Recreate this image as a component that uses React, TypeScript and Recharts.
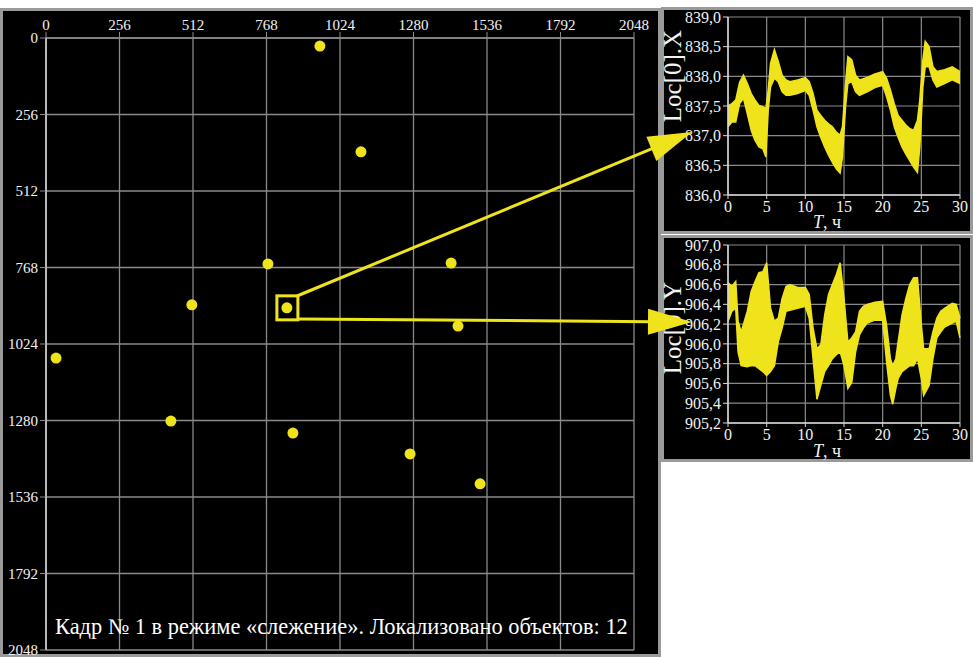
import {
  ScatterChart, Scatter, AreaChart, Area, XAxis, YAxis, CartesianGrid,
} from 'recharts';

const SERIF = "'Liberation Serif', 'DejaVu Serif', 'Times New Roman', Times, serif";
const YELLOW = '#efe31c';
const GRID = '#8a8a8a';
const AXIS = '#d8d8d8';
const BORDER = '#9a9a9a';

// frame ticks (pixels of the 2048x2048 frame)
const FRAME_TICKS = [0, 256, 512, 768, 1024, 1280, 1536, 1792, 2048];

// localized objects in frame #1
const OBJ_X = [954, 1097, 773, 1411, 508, 839, 1435, 35, 435, 860, 1268, 1512];
const OBJ_Y = [27, 381, 756, 753, 893, 903, 964, 1071, 1282, 1322, 1392, 1492];
const SELECTED = 5;

// Loc[0].X over time — lower / upper edge of the jitter band
const T_X = [0, 0.5, 1, 1.5, 2, 2.5, 3, 3.5, 4, 4.5, 4.9, 5.2, 5.5, 6, 6.5, 7, 7.5, 8, 9, 10, 10.5, 11, 11.5, 12, 12.5, 13, 13.5, 14, 14.5, 14.8, 15.2, 15.5, 16, 16.5, 17, 18, 19, 20, 20.5, 21, 21.5, 22, 22.5, 23, 23.5, 24, 24.5, 24.8, 25.2, 25.5, 26, 26.5, 27, 28, 29, 30];
const HI_X = [837.5, 837.54, 837.6, 837.9, 838.02, 837.88, 837.71, 837.6, 837.51, 837.49, 837.46, 837.77, 838.22, 838.45, 838.25, 838.02, 837.94, 837.91, 837.94, 837.98, 837.91, 837.71, 837.43, 837.34, 837.26, 837.2, 837.15, 837.06, 837.01, 837.15, 837.88, 838.33, 838.28, 838.02, 837.94, 837.98, 838.04, 838.08, 837.97, 837.77, 837.54, 837.34, 837.26, 837.18, 837.12, 837.09, 837.26, 837.6, 838.28, 838.59, 838.5, 838.16, 838.08, 838.11, 838.16, 838.08];
const LO_X = [837.15, 837.23, 837.23, 837.54, 837.63, 837.37, 837.09, 836.92, 836.81, 836.78, 836.64, 837.43, 837.82, 837.97, 837.91, 837.74, 837.68, 837.68, 837.71, 837.76, 837.68, 837.43, 837.15, 836.97, 836.81, 836.67, 836.55, 836.44, 836.37, 836.64, 837.49, 837.88, 837.91, 837.74, 837.68, 837.74, 837.81, 837.85, 837.66, 837.43, 837.15, 836.97, 836.81, 836.69, 836.58, 836.47, 836.38, 836.81, 837.82, 838.16, 838.16, 837.94, 837.82, 837.88, 837.94, 837.88];
const TICKS_LX = [836, 836.5, 837, 837.5, 838, 838.5, 839];

// Loc[0].Y over time
const T_Y = [0, 0.5, 1, 1.3, 1.7, 2.5, 3, 3.5, 4, 4.5, 5, 5.5, 6, 6.5, 7, 7.5, 8, 9, 10, 10.5, 11, 11.5, 12, 12.5, 13, 13.5, 14, 14.5, 15, 15.5, 16, 16.5, 17, 17.5, 18, 19, 20, 20.5, 21, 21.3, 21.7, 22, 22.5, 23, 23.5, 24, 24.5, 25, 25.3, 26, 26.5, 27, 27.5, 28, 29, 29.5, 30];
const HI_Y = [906.62, 906.58, 906.63, 906.23, 906.12, 906.33, 906.53, 906.63, 906.72, 906.73, 906.82, 906.36, 906.23, 906.26, 906.46, 906.58, 906.6, 906.57, 906.57, 906.5, 906.16, 905.95, 905.99, 906.29, 906.5, 906.6, 906.7, 906.82, 906.46, 906.02, 906.06, 906.12, 906.33, 906.38, 906.4, 906.42, 906.43, 906.19, 905.85, 905.78, 905.85, 906.02, 906.29, 906.46, 906.6, 906.67, 906.67, 906.19, 905.95, 905.95, 906.12, 906.26, 906.33, 906.36, 906.41, 906.4, 906.26];
const LO_Y = [906.23, 906.33, 906.36, 905.92, 905.78, 905.77, 905.78, 905.78, 905.75, 905.72, 905.68, 905.72, 905.78, 906.02, 906.16, 906.33, 906.34, 906.36, 906.38, 906.26, 905.85, 905.44, 905.58, 905.72, 905.78, 905.85, 905.89, 905.92, 905.78, 905.55, 905.61, 905.92, 906.09, 906.16, 906.21, 906.24, 906.24, 905.82, 905.48, 905.39, 905.55, 905.65, 905.72, 905.75, 905.78, 905.78, 905.85, 905.65, 905.48, 905.58, 905.85, 906.06, 906.12, 906.17, 906.21, 906.23, 906.06];
const TICKS_LY = [905.2, 905.4, 905.6, 905.8, 906.0, 906.2, 906.4, 906.6, 906.8, 907.0];

const TICKS_T = [0, 5, 10, 15, 20, 25, 30];

const objects = OBJ_X.map((x, i) => ({ x, y: OBJ_Y[i], sel: i === SELECTED }));
const bandX = T_X.map((t, i) => ({ t, v: [LO_X[i], HI_X[i]] }));
const bandY = T_Y.map((t, i) => ({ t, v: [LO_Y[i], HI_Y[i]] }));

const comma = (v: number) => v.toFixed(1).replace('.', ',');

function Dot(props: any) {
  const { cx, cy, payload } = props;
  return (
    <g>
      <circle cx={cx} cy={cy} r={5.5} fill={YELLOW} />
      {payload.sel && (
        <rect x={cx - 10} y={cy - 12} width={21} height={24} fill="none" stroke={YELLOW} strokeWidth={3} />
      )}
    </g>
  );
}

// arrows from the boxed object to the two time plots (page pixels)
const ARROWS = [
  { x1: 297, y1: 296, x2: 692, y2: 132 },
  { x1: 297, y1: 319, x2: 692, y2: 322 },
];

function Arrow({ x1, y1, x2, y2 }: { x1: number; y1: number; x2: number; y2: number }) {
  const dx = x2 - x1, dy = y2 - y1;
  const len = Math.hypot(dx, dy);
  const ux = dx / len, uy = dy / len;
  const head = 44, half = 13;
  const bx = x2 - ux * head, by = y2 - uy * head;
  const pts = `${x2},${y2} ${bx - uy * half},${by + ux * half} ${bx + uy * half},${by - ux * half}`;
  return (
    <g>
      <line x1={x1} y1={y1} x2={bx + ux * 4} y2={by + uy * 4} stroke={YELLOW} strokeWidth={3} />
      <polygon points={pts} fill={YELLOW} />
    </g>
  );
}

const panel = (left: number, top: number, width: number, height: number): React.CSSProperties => ({
  position: 'absolute', left, top, width, height, background: '#000',
  border: `3px solid ${BORDER}`, boxSizing: 'border-box',
});

const tickFont = { fill: '#f2f2f2', fontSize: 15, fontFamily: SERIF };
const smallTick = { fill: '#f2f2f2', fontSize: 16, fontFamily: SERIF };

function TimePlot({ data, ticks, domain, label }: { data: any[]; ticks: number[]; domain: [number, number]; label: string }) {
  return (
    <AreaChart width={312} height={227} data={data} margin={{ top: 10, right: 13, bottom: 19, left: 17 }}>
      <CartesianGrid stroke={GRID} strokeWidth={1.2} />
      <XAxis dataKey="t" type="number" domain={[0, 30]} ticks={TICKS_T} height={20}
        tick={smallTick} tickSize={4} tickLine={{ stroke: AXIS }} axisLine={{ stroke: AXIS, strokeWidth: 1.5 }} />
      <YAxis type="number" domain={domain} ticks={ticks} width={50} tickFormatter={comma}
        allowDataOverflow interval={0}
        tick={smallTick} tickSize={5} tickLine={{ stroke: AXIS }} axisLine={{ stroke: AXIS, strokeWidth: 1.5 }} />
      <Area dataKey="v" type="linear" stroke={YELLOW} strokeWidth={1.5} fill={YELLOW} fillOpacity={1}
        isAnimationActive={false} dot={false} activeDot={false} name={label} />
    </AreaChart>
  );
}

function AxisTitleT({ left, top }: { left: number; top: number }) {
  return (
    <div style={{ position: 'absolute', left, top, width: 60, textAlign: 'center', color: '#f2f2f2', fontFamily: SERIF, fontSize: 18, lineHeight: '18px' }}>
      <i>T</i>, ч
    </div>
  );
}

function YTitle({ cx, cy, text }: { cx: number; cy: number; text: string }) {
  return (
    <div style={{
      position: 'absolute', left: cx - 60, top: cy - 12, width: 120, height: 24, textAlign: 'center',
      transform: 'rotate(-90deg)', color: '#f2f2f2', fontFamily: SERIF, fontSize: 25, lineHeight: '24px',
    }}>{text}</div>
  );
}

export default function App() {
  return (
    <div style={{ position: 'absolute', left: 0, top: 0, width: 973, height: 657, background: '#fff', overflow: 'hidden', fontFamily: SERIF }}>
      {/* frame with localized objects */}
      <div style={panel(0, 8, 661, 649)} />
      <div style={{ position: 'absolute', left: 0, top: 0 }}>
        <ScatterChart width={660} height={657} margin={{ top: 8, right: 26, bottom: 7, left: 6 }}>
          <CartesianGrid stroke={GRID} strokeWidth={1.3} />
          <XAxis dataKey="x" type="number" orientation="top" domain={[0, 2048]} ticks={FRAME_TICKS} height={30}
            interval={0} tick={tickFont} tickSize={6} tickLine={{ stroke: GRID }} axisLine={{ stroke: GRID, strokeWidth: 1.5 }} />
          <YAxis dataKey="y" type="number" reversed domain={[0, 2048]} ticks={FRAME_TICKS} width={40}
            interval={0} tick={tickFont} tickSize={6} tickLine={{ stroke: GRID }} axisLine={{ stroke: AXIS, strokeWidth: 1.5 }} />
          <Scatter data={objects} shape={Dot} isAnimationActive={false} />
        </ScatterChart>
      </div>
      <div style={{ position: 'absolute', left: 55, top: 615, color: '#fff', fontFamily: SERIF, fontSize: 22.4, lineHeight: '24px', whiteSpace: 'nowrap' }}>
        Кадр № 1 в режиме «слежение». Локализовано объектов: 12
      </div>

      {/* Loc[0].X */}
      <div style={panel(661, 7, 312, 227)} />
      <div style={{ position: 'absolute', left: 661, top: 7 }}>
        <TimePlot data={bandX} ticks={TICKS_LX} domain={[836, 839]} label="Loc[0].X" />
      </div>
      <YTitle cx={673} cy={76} text="Loc[0].X" />
      <AxisTitleT left={797} top={213} />

      {/* Loc[0].Y */}
      <div style={panel(661, 235, 312, 227)} />
      <div style={{ position: 'absolute', left: 661, top: 235 }}>
        <TimePlot data={bandY} ticks={TICKS_LY} domain={[905.2, 907]} label="Loc[0].Y" />
      </div>
      <YTitle cx={673} cy={328} text="Loc[0].Y" />
      <AxisTitleT left={797} top={442} />

      <svg width={973} height={657} style={{ position: 'absolute', left: 0, top: 0, pointerEvents: 'none' }}>
        {ARROWS.map((a, i) => <Arrow key={i} {...a} />)}
      </svg>
    </div>
  );
}
